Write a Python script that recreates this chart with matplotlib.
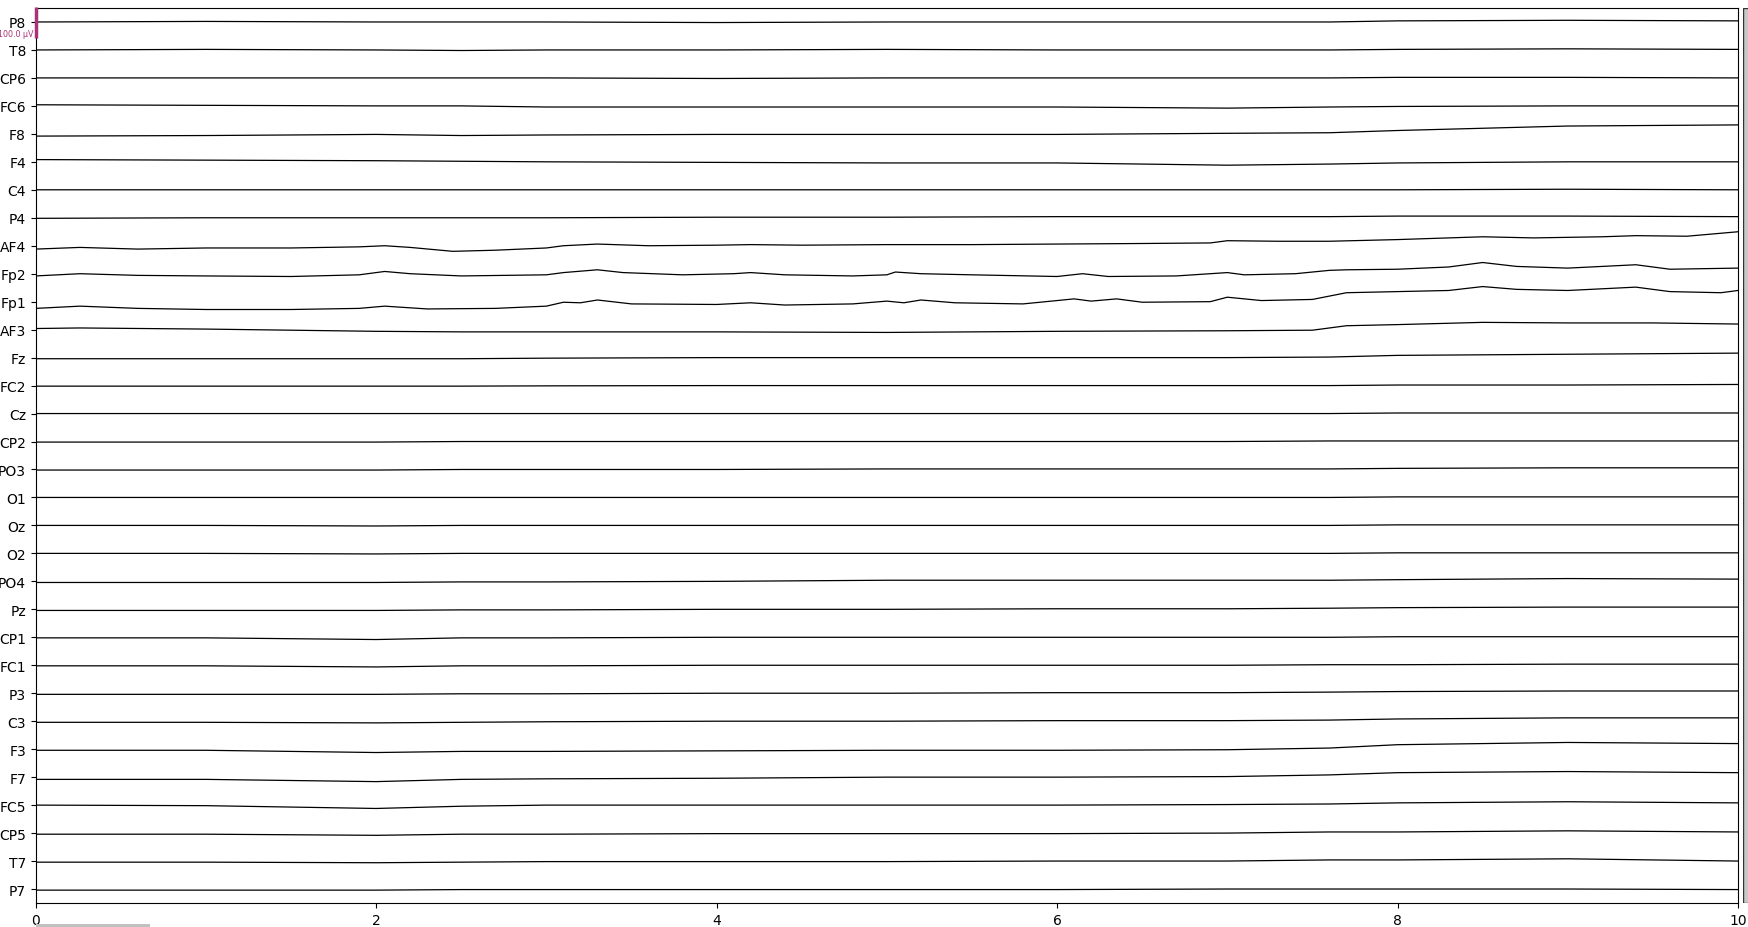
import matplotlib
matplotlib.use("Agg")
import matplotlib.pyplot as plt
from matplotlib.patches import Rectangle

# ---------------- data ----------------
channels = ["P8", "T8", "CP6", "FC6", "F8", "F4", "C4", "P4", "AF4", "Fp2",
            "Fp1", "AF3", "Fz", "FC2", "Cz", "CP2", "PO3", "O1", "Oz", "O2",
            "PO4", "Pz", "CP1", "FC1", "P3", "C3", "F3", "F7", "FC5", "CP5",
            "T7", "P7"]

# common coarse time grid (s) for slowly drifting channels, values in µV
grid_t = [0, 1, 2, 2.5, 3, 4, 5, 6, 7, 7.6, 8, 9, 10]
P8 = [0, 2, 0, 0, 0, -2, 0, 0, 0, 0, 4, 6, 4]
T8 = [0, 2, 0, -2, 0, 0, 2, 0, 0, 0, 2, 4, 2]
CP6 = [0, 0, 0, 0, 0, -2, 0, 0, 0, 0, 2, 2, 0]
FC6 = [4, 2, 0, 0, -4, -4, -4, -4, -8, -4, -2, 0, 0]
F8 = [-8, -6, -2, -6, -4, -2, -2, -2, 2, 4, 12, 28, 32]
F4 = [8, 6, 4, 2, 0, -2, -4, -4, -12, -8, -4, 0, 0]
C4 = [0, 0, 0, 0, 0, 0, 0, 0, 0, 0, 0, 2, 0]
P4 = [-2, 0, 0, 0, 0, 2, 2, 4, 4, 4, 6, 6, 4]
Fz = [-4, -4, -4, -4, -2, 0, 0, 0, 0, 2, 8, 12, 16]
FC2 = [-2, -2, -2, -2, -1, 0, 0, 0, 0, 0, 2, 2, 4]
Cz = [0, 0, 0, 0, 0, 0, 0, 0, 0, 0, 2, 2, 2]
CP2 = [-2, -2, -2, 0, 0, 0, 0, 0, 0, 2, 2, 2, 2]
PO3 = [-2, -2, -2, 0, 0, 0, 2, 2, 2, 2, 4, 6, 6]
O1 = [0, 0, 0, 0, 0, 0, 0, 0, 0, 0, 2, 2, 2]
Oz = [0, 0, -2, 0, 0, 0, 0, 0, 0, 0, 2, 2, 2]
O2 = [0, 0, -2, 0, 0, 0, 0, 0, 0, 0, 2, 2, 2]
PO4 = [-4, -4, -4, -2, -2, 0, 4, 4, 4, 4, 6, 10, 8]
Pz = [-4, -4, -4, -2, -2, 0, 0, 2, 2, 4, 6, 8, 8]
CP1 = [-2, -2, -8, -2, -2, 0, 0, 0, 0, 0, 2, 2, 2]
FC1 = [-2, -2, -6, -2, -2, 0, 0, 0, 0, 2, 2, 4, 4]
P3 = [-4, -4, -4, -2, -2, 0, 0, 2, 2, 4, 6, 8, 8]
C3 = [-4, -4, -6, -4, -2, 0, 0, 2, 2, 4, 8, 12, 12]
F3 = [-4, -4, -12, -8, -8, -6, -4, -4, -2, 4, 16, 24, 20]
F7 = [-8, -8, -16, -8, -6, -4, 0, 0, 2, 8, 16, 20, 16]
FC5 = [0, -2, -12, -4, 0, 0, 0, 0, 2, 4, 8, 12, 8]
CP5 = [-4, -4, -8, -4, -4, -2, -2, -2, 0, 4, 4, 8, 4]
T7 = [-4, -4, -6, -4, -2, -2, -2, 0, 0, 4, 4, 8, 0]
P7 = [-4, -4, -4, -2, -2, -2, -2, -2, 0, 0, 0, 0, -2]

# frontal channels with visible small deflections (own time breakpoints)
AF4_t = [0, 0.26, 0.6, 1.0, 1.5, 1.9, 2.05, 2.2, 2.45, 2.7, 3.0, 3.1, 3.3,
         3.6, 4.0, 4.2, 4.5, 5.0, 5.5, 6.0, 6.5, 6.9, 7.0, 7.3, 7.6, 8.0,
         8.3, 8.5, 8.8, 9.2, 9.4, 9.7, 10]
AF4 = [-12, -6, -12, -8, -8, -4, 0, -6, -20, -16, -8, 0, 6,
       0, 2, 4, 2, 4, 4, 6, 8, 10, 18, 16, 16, 22,
       28, 32, 28, 32, 36, 34, 50]
Fp2_t = [0, 0.26, 0.6, 1.0, 1.5, 1.9, 2.05, 2.2, 2.5, 3.0,
         3.1, 3.3, 3.45, 3.8, 4.1, 4.2, 4.4, 4.8, 5.0, 5.05,
         5.2, 5.5, 6.0, 6.15, 6.3, 6.7, 7.0, 7.1, 7.4, 7.6,
         7.7, 8.0, 8.3, 8.5, 8.7, 9.0, 9.4, 9.6, 10]
Fp2 = [-8, 0, -6, -8, -10, -4, 8, 0, -8, -4,
       4, 14, 4, -4, 0, 4, -4, -8, -4, 6,
       0, -4, -10, 0, -10, -8, 4, -4, 0, 12,
       14, 16, 24, 40, 26, 20, 32, 16, 20]
Fp1_t = [0, 0.26, 0.6, 1.0, 1.5, 1.9, 2.05, 2.3, 2.7, 3.0,
         3.1, 3.2, 3.3, 3.5, 4.0, 4.2, 4.4, 4.8, 5.0, 5.1,
         5.2, 5.4, 5.8, 6.1, 6.2, 6.35, 6.5, 6.9, 7.0, 7.2,
         7.5, 7.7, 8.0, 8.3, 8.5, 8.7, 9.0, 9.4, 9.6, 9.9, 10]
Fp1 = [-24, -16, -24, -28, -28, -24, -16, -26, -24, -16,
       -2, -4, 6, -8, -10, -4, -12, -8, 2, -4,
       6, -4, -8, 10, 2, 10, -2, 0, 16, 4,
       8, 32, 36, 40, 54, 44, 40, 52, 36, 32, 40]
AF3_t = [0, 0.26, 1.0, 2.0, 2.5, 3.0, 4.0, 5.0, 6.0, 7.0, 7.5, 7.7, 8.0,
         8.5, 9.0, 9.5, 10]
AF3 = [4, 6, 2, -6, -8, -8, -8, -10, -6, -4, -2, 14, 18, 26, 24, 24, 20]

xticks = [0, 2, 4, 6, 8, 10]
scale_label = "100.0 µV"
scale_uv = 100.0
total_duration = 149.0
window = (0.0, 10.0)

# ---------------- figure ----------------
W, H = 1749, 928
fig = plt.figure(figsize=(W / 100, H / 100), dpi=100)
left, right, top, bottom = 35.7, 1738.0, 9.0, 904.0
ax = fig.add_axes([left / W, 1 - bottom / H, (right - left) / W, (bottom - top) / H])

series = {
    "P8": (grid_t, P8), "T8": (grid_t, T8), "CP6": (grid_t, CP6),
    "FC6": (grid_t, FC6), "F8": (grid_t, F8), "F4": (grid_t, F4),
    "C4": (grid_t, C4), "P4": (grid_t, P4), "AF4": (AF4_t, AF4),
    "Fp2": (Fp2_t, Fp2), "Fp1": (Fp1_t, Fp1), "AF3": (AF3_t, AF3),
    "Fz": (grid_t, Fz), "FC2": (grid_t, FC2), "Cz": (grid_t, Cz),
    "CP2": (grid_t, CP2), "PO3": (grid_t, PO3), "O1": (grid_t, O1),
    "Oz": (grid_t, Oz), "O2": (grid_t, O2), "PO4": (grid_t, PO4),
    "Pz": (grid_t, Pz), "CP1": (grid_t, CP1), "FC1": (grid_t, FC1),
    "P3": (grid_t, P3), "C3": (grid_t, C3), "F3": (grid_t, F3),
    "F7": (grid_t, F7), "FC5": (grid_t, FC5), "CP5": (grid_t, CP5),
    "T7": (grid_t, T7), "P7": (grid_t, P7),
}

for i, name in enumerate(channels):
    t, v = series[name]
    y = [i - val / scale_uv for val in v]
    ax.plot(t, y, color="black", lw=0.9, antialiased=True)

n = len(channels)
ax.set_ylim(n - 0.5, -0.5)
ax.set_xlim(*window)
ax.set_yticks(range(n))
ax.set_yticklabels(channels, fontsize=10)
ax.set_xticks(xticks)
ax.set_xticklabels([str(x) for x in xticks], fontsize=10)

# scale bar
sb_color = "#AA3377"
ax.plot([0, 0], [-0.52, 0.56], color=sb_color, lw=2.5, clip_on=False,
        zorder=5, solid_capstyle="butt")
ax.text(-0.01, 0.49, scale_label, color=sb_color, fontsize=5.8, ha="right",
        va="baseline", clip_on=False)

# vertical scrollbar
axv = fig.add_axes([1743 / W, 1 - bottom / H, 6 / W, (bottom - top) / H])
axv.add_patch(Rectangle((0, 0), 1, 1, facecolor="#c8c8c8", edgecolor="#333333",
                        lw=1.0))
axv.set_xlim(0, 1)
axv.set_ylim(0, 1)
axv.axis("off")

# horizontal scrollbar
axh = fig.add_axes([left / W, 0, (right - left) / W, 3 / H])
axh.add_patch(Rectangle((window[0], 0), window[1] - window[0], 1,
                        facecolor="#c0c0c0", edgecolor="none"))
axh.set_xlim(0, total_duration)
axh.set_ylim(0, 1)
axh.axis("off")

fig.savefig("out.png", dpi=100)
